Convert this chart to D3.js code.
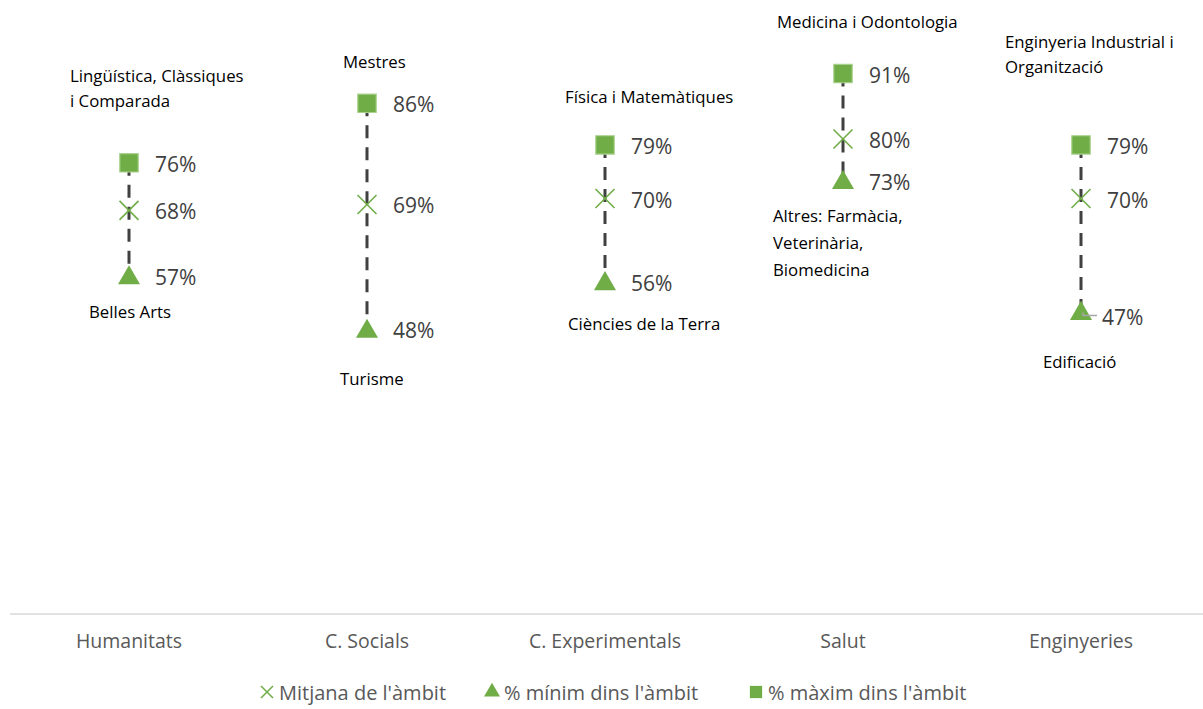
<!DOCTYPE html>
<html>
<head>
<meta charset="utf-8">
<script src="https://cdn.jsdelivr.net/npm/d3@7"></script>
<style>
  body { margin: 0; background: #fff; }
  svg { display: block; font-family: "Open Sans", sans-serif; }
</style>
</head>
<body>
<svg id="chart" width="1203" height="709"></svg>
<script>
// data
const categories = ["Humanitats", "C. Socials", "C. Experimentals", "Salut", "Enginyeries"];
const maxValues = [76, 86, 79, 91, 79];
const avgValues = [68, 69, 70, 80, 70];
const minValues = [57, 48, 56, 73, 51];
const maxLabels = ["76%", "86%", "79%", "91%", "79%"];
const avgLabels = ["68%", "69%", "70%", "80%", "70%"];
const minLabels = ["57%", "48%", "56%", "73%", "47%"];
const maxNames = [["Lingüística, Clàssiques", "i Comparada"], ["Mestres"], ["Física i Matemàtiques"], ["Medicina i Odontologia"], ["Enginyeria Industrial i", "Organització"]];
const minNames = [["Belles Arts"], ["Turisme"], ["Ciències de la Terra"], ["Altres: Farmàcia,", "Veterinària,", "Biomedicina"], ["Edificació"]];
const legendItems = ["Mitjana de l'àmbit", "% mínim dins l'àmbit", "% màxim dins l'àmbit"];

// layout of the hand placed name labels (offset from the marker)
const maxNameOffset = [[-59, -87], [-24, -41], [-40, -48], [-66, -52], [-76, -103]];
const minNameOffset = [[-40, 36], [-27, 50], [-37, 42], [-70, 35], [-38, 50]];

const green = "#70ad47";
const svg = d3.select("#chart");

const x = d3.scaleBand().domain(categories).range([10, 1200]);
const y = d3.scaleLinear().domain([0, 100]).range([615, 20]);
const cx = c => x(c) + x.bandwidth() / 2;

// category axis
const axis = svg.append("g")
    .attr("transform", "translate(0,614)")
    .call(d3.axisBottom(x).tickSize(0).tickPadding(20));
axis.select(".domain").attr("stroke", "#d9d9d9").attr("stroke-width", 1.5)
    .attr("d", "M10,0H1203");
axis.selectAll("text")
    .attr("font-family", "Open Sans")
    .attr("font-size", 19.5)
    .attr("fill", "#595959");

const groups = svg.append("g").selectAll("g")
    .data(categories)
    .join("g");

// dashed range line
groups.append("line")
    .attr("x1", c => cx(c)).attr("x2", c => cx(c))
    .attr("y1", (c, i) => y(maxValues[i]))
    .attr("y2", (c, i) => y(minValues[i]))
    .attr("stroke", "#404040")
    .attr("stroke-width", 3)
    .attr("stroke-dasharray", "13,9");

const sq = d3.symbol().type(d3.symbolSquare).size(340);
const tri = d3.symbol().type(d3.symbolTriangle).size(210);

// min triangles
groups.append("path")
    .attr("d", tri)
    .attr("transform", (c, i) => `translate(${cx(c)},${y(minValues[i]) + 2})`)
    .attr("fill", green);

// max squares
groups.append("path")
    .attr("d", sq)
    .attr("transform", (c, i) => `translate(${cx(c)},${y(maxValues[i])})`)
    .attr("fill", green)
    .attr("stroke", "#a9d18e")
    .attr("stroke-width", 1.2);

// average crosses
groups.append("path")
    .attr("d", "M-9.5,-9.5L9.5,9.5M-9.5,9.5L9.5,-9.5")
    .attr("transform", (c, i) => `translate(${cx(c)},${y(avgValues[i])})`)
    .attr("fill", "none")
    .attr("stroke", green)
    .attr("stroke-width", 1.6);

// value labels
function valueLabels(vals, labels, dx) {
    groups.append("text")
        .attr("x", c => cx(c) + dx)
        .attr("y", (c, i) => y(vals[i]) + 1)
        .attr("dominant-baseline", "central")
        .attr("font-size", 21)
        .attr("fill", "#404040")
        .text((c, i) => labels[i]);
}
valueLabels(maxValues, maxLabels, 26);
valueLabels(avgValues, avgLabels, 26);

groups.append("text")
    .attr("x", (c, i) => cx(c) + (i === 4 ? 21 : 26))
    .attr("y", (c, i) => y(minValues[i]) + (i === 4 ? 5 : 1))
    .attr("dominant-baseline", "central")
    .attr("font-size", 21)
    .attr("fill", "#404040")
    .text((c, i) => minLabels[i]);

// leader line for the moved label
groups.filter((c, i) => i === 4).append("path")
    .attr("d", c => `M${cx(c) + 2},${y(minValues[4]) + 1}V${y(minValues[4]) + 4}H${cx(c) + 16}`)
    .attr("fill", "none")
    .attr("stroke", "#a6a6a6")
    .attr("stroke-width", 1.5);

// name labels
function nameLabels(names, vals, offs, lh) {
    groups.append("text")
        .attr("font-size", 16.8)
        .attr("fill", "#000")
        .each(function (c, i) {
            const t = d3.select(this);
            names[i].forEach((line, k) => {
                t.append("tspan")
                    .attr("x", cx(c) + offs[i][0])
                    .attr("y", y(vals[i]) + offs[i][1] + k * lh + 6)
                    .text(line);
            });
        });
}
nameLabels(maxNames, maxValues, maxNameOffset, 25);
nameLabels(minNames, minValues, minNameOffset, 27);

// legend
const legend = svg.append("g").attr("font-size", 20).attr("fill", "#595959");
const legendX = [267, 492, 756];
legendItems.forEach((name, i) => {
    const g = legend.append("g").attr("transform", `translate(${legendX[i]},692)`);
    if (i === 0) {
        g.append("path").attr("d", "M-6,-6L6,6M-6,6L6,-6")
            .attr("stroke", green).attr("stroke-width", 1.5).attr("fill", "none");
    } else if (i === 1) {
        g.append("path").attr("d", d3.symbol().type(d3.symbolTriangle).size(110)).attr("fill", green);
    } else {
        g.append("path").attr("d", d3.symbol().type(d3.symbolSquare).size(150)).attr("fill", green);
    }
    g.append("text").attr("x", 12).attr("dominant-baseline", "central").text(name);
});
</script>
</body>
</html>
